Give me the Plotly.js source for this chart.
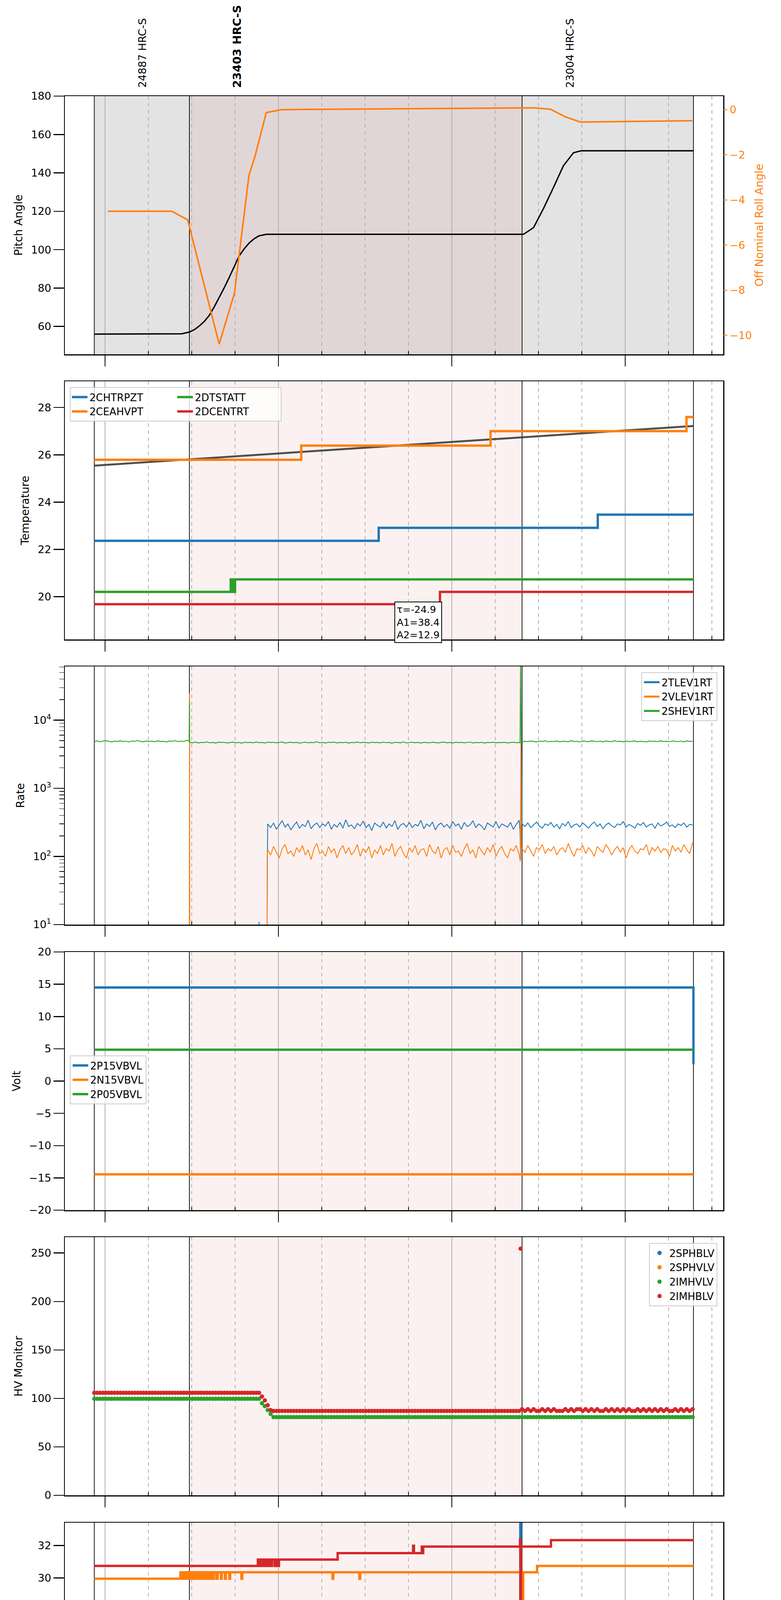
<!DOCTYPE html>
<html>
<head>
<meta charset="utf-8">
<script src="https://cdn.plot.ly/plotly-3.0.1.min.js"></script>
<style>
  html, body { margin: 0; padding: 0; background: #fff; }
  #chart { width: 2000px; height: 5400px; }
</style>
</head>
<body>
<div id="chart"></div>
<script>
// HRC status plot for 2020-12-12 (DOY 347). All times are minutes after 18:00.

// observations
const OBS_IDS = ['24887 HRC-S', '23403 HRC-S', '23004 HRC-S'];
const OBS_CURRENT = 1;
const OBS_START = [-3.7, 29.2, 144.3];
const OBS_END = 203.6;

// x ticks
const HOUR_TICKS = [0, 60, 120, 180];
const HOUR_LABELS = ['18h', '19h', '20h', '21h'];
const QUARTER_TICKS = [15, 30, 45, 75, 90, 105, 135, 150, 165, 195, 210];

// panel 1: pitch and off nominal roll
const PITCH_T = [-3.7, 26.6, 29.2, 30.9, 32.6, 34.4, 36.1, 37.8, 39.5, 41.3, 43.0, 44.7, 46.4, 48.2, 49.9, 51.6, 53.3, 55.9, 144.8, 148.3, 151.7, 155.2, 158.6, 162.1, 164.7, 203.6];
const PITCH_V = [56.0, 56.2, 57.1, 58.3, 60.2, 62.7, 65.8, 70.2, 75.1, 80.3, 85.6, 91.2, 96.7, 100.5, 103.5, 105.7, 107.2, 108.0, 108.0, 111.5, 121.4, 132.5, 143.7, 150.5, 151.5, 151.5];
const ROLL_T = [1.0, 23.1, 28.6, 39.5, 44.8, 49.8, 51.9, 55.8, 61.0, 148.1, 154.1, 159.3, 164.5, 203.2];
const ROLL_V = [-4.5, -4.5, -4.88, -10.39, -8.13, -2.92, -2.07, -0.13, 0.0, 0.08, 0.02, -0.32, -0.55, -0.49];

// panel 2: temperature (change points)
const TREND_T = [-3.7, 203.6];
const TREND_V = [25.54, 27.22];
const CHTRPZT_T = [-3.7, 94.7, 170.5, 203.6];
const CHTRPZT_V = [22.36, 22.91, 23.47, 23.47];
const CEAHVPT_T = [-3.7, 67.9, 133.4, 201.2, 203.6];
const CEAHVPT_V = [25.79, 26.39, 27.0, 27.6, 27.6];
const DTSTATT_T = [-3.7, 43.5, 43.8, 44.1, 44.6, 45.0, 203.6];
const DTSTATT_V = [20.2, 20.73, 20.2, 20.73, 20.2, 20.73, 20.73];
const DCENTRT_T = [-3.7, 115.9, 203.6];
const DCENTRT_V = [19.68, 20.2, 20.2];
const FIT_TEXT = ['τ=-24.9', 'A1=38.4', 'A2=12.9'];
const FIT_T = 108.4;
const FIT_Y = 19.79;

// panel 3: rates, one-minute samples plus short events
const RATE_TICKS = [10, 100, 1000, 10000];
const RATE_TICK_TEXT = ['10<sup>1</sup>', '10<sup>2</sup>', '10<sup>3</sup>', '10<sup>4</sup>'];
const SHEV_A = [4850,4960,4820,4900,5010,4880,4790,4930,4870,4990,
  4840,4920,4780,4950,4890,5020,4860,4800,4940,4870,
  4910,4830,4980,4850,4900,4770,4950,4880,5000,4840,
  4920,4860,5050];
const SHEV_B = [4700,4650,4760,4620,4720,4680,4790,4640,4710,4600,
  4750,4690,4730,4620,4680,4770,4650,4710,4590,4740,
  4680,4720,4640,4800,4660,4700,4610,4750,4690,4730,
  4650,4710,4780,4620,4690,4740,4660,4720,4600,4700,
  4760,4640,4710,4680,4820,4650,4700,4610,4730,4690,
  4750,4630,4710,4670,4740,4600,4700,4660,4780,4640,
  4720,4690,4610,4750,4680,4710,4630,4760,4670,4700,
  4590,4730,4680,4650,4790,4620,4700,4740,4660,4710,
  4600,4720,4680,4640,4750,4690,4630,4710,4770,4650,
  4700,4610,4740,4680,4720,4640,4690,4760,4620,4700,
  4660,4730,4600,4710,4680,4750,4640,4700,4670,4720,
  4630,4690,4740,4660,4710];
const SHEV_C = [4780,4900,4830,4950,4870,4790,4920,4860,4980,4810,
  4890,4840,4960,4800,4910,4870,4830,4990,4850,4900,
  4780,4940,4860,4820,4970,4880,4840,4910,4800,4950,
  4870,4830,4990,4860,4900,4790,4930,4850,4880,4960,
  4820,4900,4850,4780,4940,4870,4910,4830,4980,4860,
  4890,4810,4950,4870,4840,4920,4800,4960,4880,4900];
const SHEV_EV_T = [29.1, 29.2, 29.25, 143.6, 143.8, 144.0];
const SHEV_EV_V = [4900, 18700, 4800, 4650, 90000, 4800];

const TLEV_B = [300,265,310,250,290,335,270,300,245,285,
  320,260,295,275,340,255,290,310,265,300,
  280,325,250,295,270,315,260,345,275,290,
  255,305,280,330,265,295,240,310,285,270,
  320,260,300,275,335,250,290,305,270,315,
  265,295,280,340,255,300,275,320,245,290,
  310,270,295,260,325,280,300,250,315,275,
  290,335,265,300,280,245,310,290,270,325,
  260,300,285,270,315,250,295,340];
const TLEV_C = [300,275,310,265,290,320,280,260,300,285,
  315,270,295,255,305,280,325,265,290,300,
  270,310,285,260,295,320,275,300,255,290,
  310,280,265,300,290,325,270,295,280,260,
  305,285,315,270,290,300,260,310,280,295,
  320,275,290,265,300,285,310,270,295,290];
const TLEV_EV_T = [53.2, 53.3, 53.4, 56.0, 56.15, 143.6, 143.8, 144.05];
const TLEV_EV_V = [1, 11, 1, 1, 85, 240, 90, 4800];

const VLEV_B = [125,105,140,115,95,130,150,110,120,100,
  135,115,145,105,125,90,130,155,110,120,
  100,140,115,130,95,125,145,110,135,105,
  120,150,100,130,115,140,95,125,110,145,
  105,130,120,155,100,125,140,110,95,135,
  115,145,105,125,130,100,150,120,110,140,
  95,125,135,105,145,115,120,100,130,155,
  110,125,95,140,120,105,135,115,150,100,
  125,140,110,95,130,120,145,105];
const VLEV_C = [130,115,145,120,100,135,125,150,110,130,
  120,140,105,125,135,115,155,120,100,130,
  125,145,110,135,120,100,140,125,115,150,
  130,105,125,140,115,135,95,125,145,120,
  110,130,125,150,105,135,120,140,115,130,
  125,100,145,120,135,115,150,125,110,160];
const VLEV_EV_T = [29.15, 29.25, 29.35, 56.0, 56.1, 56.2, 143.7, 143.9, 144.1];
const VLEV_EV_V = [1, 24700, 1, 1, 48, 110, 85, 4700, 130];

// panel 4: volt
const P15_T = [-3.7, 203.5, 203.6];
const P15_V = [14.5, 14.5, 2.6];
const N15_T = [-3.7, 203.6];
const N15_V = [-14.45, -14.45];
const P05_T = [-3.7, 203.6];
const P05_V = [4.85, 4.85];

// panel 5: HV monitor, one-minute samples as [value, count] runs
const HV_T0 = -3.7;
const HV_DT = 1;
const IMHVLV_RUNS = [[99.6, 58], [95, 1], [92, 1], [88, 1], [84, 1], [80.7, 146]];
const IMHBLV_RUNS = [[105.8, 58], [102, 1], [98, 1], [93, 1], [88, 1], [87.1, 86]];
const IMHBLV_TAIL = [88.9,87.1,88.9,87.1,88.9,87.1,87.1,88.9,87.1,88.9,
  87.1,88.9,87.1,87.1,87.1,88.9,87.1,88.9,87.1,88.9,
  88.9,87.1,88.9,87.1,88.9,87.1,88.9,87.1,87.1,88.9,
  87.1,88.9,87.1,88.9,87.1,88.9,87.1,88.9,87.1,87.1,
  88.9,87.1,88.9,87.1,88.9,87.1,88.9,87.1,88.9,87.1,
  88.9,87.1,87.1,88.9,87.1,88.9,87.1,88.9,87.1,88.9];
const IMHBLV_EV_T = [143.8];
const IMHBLV_EV_V = [254.5];
// no valid samples for these two in the window
const SPHBLV_V = [null];
const SPHVLV_V = [null];

// panel 6: detector temp (change points)
const SPINATM_T = [-3.7, 76.5, 77.2, 77.9, 78.6, 79.3, 143.7, 143.9, 144.1, 203.6];
const SPINATM_V = [18.94, 19.61, 18.94, 19.61, 18.94, 19.61, 40, 10, 19.61, 19.61];
const SPHVATM_T = [-3.7, 26.1, 26.6, 27.1, 27.8, 28.5, 29.0, 29.6, 30.4, 31.0, 31.5, 32.2, 33.0, 33.6, 34.1, 34.9, 35.5, 36.3, 37.0, 37.6, 38.5, 39.0, 40.1, 40.4, 41.5, 41.8, 43.0, 43.3, 47.2, 47.5, 78.7, 79.0, 88.0, 88.3, 144.5, 144.7, 149.5, 203.6];
const SPHVATM_V = [29.95,
  30.35,29.95,30.35,29.95,30.35,29.95,30.35,29.95,30.35,29.95,
  30.35,29.95,30.35,29.95,30.35,29.95,30.35,29.95,30.35,29.95,
  30.35,29.95,30.35,29.95,30.35,29.95,30.35,29.95,30.35,29.95,
  30.35,29.95,30.35, 10, 30.35, 30.74, 30.74];
const IMINATM_T = [-3.7, 110.6, 111.2, 111.8, 112.6, 113.3, 114.0, 114.6, 115.1, 115.4, 144.55, 144.75, 203.6];
const IMINATM_V = [20.29, 20.99, 20.29, 20.99, 20.29, 20.99, 20.29, 20.99, 20.29, 20.99, 10, 20.99, 20.99];
const IMHVATM_T = [-3.7, 52.9, 53.4, 54.0, 54.5, 55.3, 55.8, 56.6, 57.4, 57.8, 58.7, 59.1, 59.9, 60.2, 80.5, 106.6, 106.9, 109.6, 109.9, 110.1, 143.6, 143.75, 143.95, 154.3, 203.6];
const IMHVATM_V = [30.74, 31.13, 30.74, 31.13, 30.74, 31.13, 30.74, 31.13, 30.74, 31.13, 30.74, 31.13, 30.74, 31.13, 31.53, 31.99, 31.53, 31.93, 31.53, 31.93, 32.38, 10, 31.93, 32.33, 32.33];

// panel 7: FEA temp (change points)
const FHTRMZT_T = [-3.7, 50.7, 65.3, 65.8, 66.4, 67.0, 67.5, 68.2, 68.8, 69.5, 70.1, 70.8, 71.4, 72.0, 72.6, 73.4, 73.8, 74.2, 77.0, 77.4, 78.8, 79.1, 80.7, 81.0, 82.0, 82.4, 86.0, 86.5, 87.1, 87.6, 88.3, 88.7, 89.4, 89.9, 90.6, 91.1, 91.7, 92.4, 93.0, 93.5, 94.0, 94.6, 101.4, 101.7, 102.8, 103.1, 203.6];
const FHTRMZT_V = [22.9, 23.47,
  22.9, 23.47, 22.9, 23.47, 22.9, 23.47, 22.9, 23.47, 22.9, 23.47, 22.9, 23.47, 22.9, 23.47,
  22.9, 23.47, 22.9, 23.47, 22.9, 23.47, 22.9, 23.47, 22.9, 23.47, 22.9, 23.47, 22.9, 23.47,
  22.9, 23.47, 22.9, 23.47, 22.9, 23.47, 22.9, 23.47, 22.9, 23.47, 22.9, 23.47, 22.9, 23.47,
  23.47];
const FRADPYT_T = [-3.7, 37.4, 63.1, 166.2, 196.0, 203.6];
const FRADPYT_V = [18.15, 18.64, 18.15, 18.64, 19.16, 19.16];
const FEPRATM_T = [-3.7, 143.7, 143.8, 199.4, 199.9, 200.5, 201.0, 201.6, 202.2, 202.8, 203.6];
const FEPRATM_V = [24.62, 23.0, 24.62, 25.44, 24.62, 25.44, 24.62, 25.44, 24.62, 25.44, 25.44];
const FE00ATM_T = [-3.7, 9.8, 64.5, 64.8, 65.3, 65.7, 67.0, 67.3, 67.5, 67.8, 91.5, 91.8, 101.5, 101.8, 109.2, 109.6, 112.2, 112.5, 114.8, 115.1, 126.9, 127.2, 137.4, 137.7, 143.8, 143.95, 144.1, 170.4, 170.8, 186.0, 186.4, 191.5, 191.9, 198.9, 199.5, 200.3, 201.1, 201.7, 202.4, 203.0, 203.6];
const FE00ATM_V = [22.66, 22.98, 22.65, 22.98, 24.31, 22.98, 23.96, 22.98, 22.65, 22.98, 23.32, 22.98, 23.32, 22.98, 22.30, 22.98, 23.65, 22.98, 22.65, 22.98, 22.65, 22.98, 22.65, 22.98, 27, 15, 22.98, 23.32, 22.98, 24.31, 22.98, 23.65, 22.98, 23.32, 22.98, 23.32, 22.98, 23.32, 22.98, 23.32, 23.32];

// ---------------------------------------------------------------------------

const BLUE = '#1f77b4', ORANGE = '#ff7f0e', GREEN = '#2ca02c', RED = '#d62728';
const FONT = 'DejaVu Sans, sans-serif';
const T_BASE = Date.UTC(2020, 11, 12, 18, 0, 0);

const tm = m => new Date(T_BASE + Math.round(m * 60000)).toISOString().slice(0, 23).replace('T', ' ');
const pairs = (t, v) => t.map((x, i) => [x, v[i]]);
const uniform = (t0, dt, vals) => vals.map((v, i) => [t0 + i * dt, v]);
const expandRuns = runs => [].concat(...runs.map(r => new Array(r[1]).fill(r[0])));
const merged = (...parts) => {
    const pts = [].concat(...parts).sort((a, b) => a[0] - b[0]);
    return { x: pts.map(p => tm(p[0])), y: pts.map(p => p[1]) };
};

// layout geometry (pixels)
const PANEL_TOP = [246, 976, 1706, 2437, 3167, 3898, 4629];
const PANEL_H = 661;
const M_L = 166, M_R = 148, M_T = 246, M_B = 110;
const PLOT_W = 2000 - M_L - M_R, PLOT_H = 5400 - M_T - M_B;
const PLOT_BOTTOM = 5400 - M_B;
const px = x => (x - M_L) / PLOT_W;
const py = y => (PLOT_BOTTOM - y) / PLOT_H;

const ax = (p, k) => k + (p ? p + 1 : '');

let data = [];

const stepLine = (p, t, v, name, color, width, legend) => ({
    x: t.map(tm), y: v, xaxis: ax(p, 'x'), yaxis: ax(p, 'y'), name: name,
    type: 'scatter', mode: 'lines', line: { color: color, width: width, shape: 'hv' },
    legend: legend, showlegend: !!legend
});

// panel 1
data.push({ x: PITCH_T.map(tm), y: PITCH_V, xaxis: 'x', yaxis: 'y', type: 'scatter', mode: 'lines',
    line: { color: '#000', width: 3.5 }, showlegend: false });
data.push({ x: ROLL_T.map(tm), y: ROLL_V, xaxis: 'x', yaxis: 'y8', type: 'scatter', mode: 'lines',
    line: { color: ORANGE, width: 4 }, showlegend: false });

// panel 2: two legend columns, one legend group per column
data.push({ x: TREND_T.map(tm), y: TREND_V, xaxis: 'x2', yaxis: 'y2', type: 'scatter', mode: 'lines',
    line: { color: 'rgba(60,60,60,0.9)', width: 5 }, showlegend: false });
data.push(Object.assign(stepLine(1, CHTRPZT_T, CHTRPZT_V, '2CHTRPZT', BLUE, 6, 'legend'), { legendgroup: 'col1' }));
data.push(Object.assign(stepLine(1, CEAHVPT_T, CEAHVPT_V, '2CEAHVPT', ORANGE, 6, 'legend'), { legendgroup: 'col1' }));
data.push(Object.assign(stepLine(1, DTSTATT_T, DTSTATT_V, '2DTSTATT', GREEN, 6, 'legend'), { legendgroup: 'col2' }));
data.push(Object.assign(stepLine(1, DCENTRT_T, DCENTRT_V, '2DCENTRT', RED, 6, 'legend'), { legendgroup: 'col2' }));

// panel 3
const rateSeries = [
    ['2TLEV1RT', BLUE, merged(pairs(TLEV_EV_T, TLEV_EV_V), uniform(56.3, 1, TLEV_B), uniform(144.3, 1, TLEV_C))],
    ['2VLEV1RT', ORANGE, merged(pairs(VLEV_EV_T, VLEV_EV_V), uniform(56.3, 1, VLEV_B), uniform(144.3, 1, VLEV_C))],
    ['2SHEV1RT', GREEN, merged(uniform(-3.7, 1, SHEV_A), uniform(29.3, 1, SHEV_B), uniform(144.3, 1, SHEV_C), pairs(SHEV_EV_T, SHEV_EV_V))]
];
rateSeries.forEach(s => {
    data.push({ x: s[2].x, y: s[2].y, xaxis: 'x3', yaxis: 'y3', type: 'scatter', mode: 'lines',
        line: { color: s[1], width: 2.2 }, showlegend: false, name: s[0] });
});
// thicker handles for the legend only
rateSeries.forEach(s => {
    data.push({ x: [tm(0)], y: [null], xaxis: 'x3', yaxis: 'y3', type: 'scatter', mode: 'lines',
        line: { color: s[1], width: 5 }, name: s[0], legend: 'legend3' });
});

// panel 4
data.push(stepLine(3, P15_T, P15_V, '2P15VBVL', BLUE, 6, 'legend4'));
data.push(stepLine(3, N15_T, N15_V, '2N15VBVL', ORANGE, 6, 'legend4'));
data.push(stepLine(3, P05_T, P05_V, '2P05VBVL', GREEN, 6, 'legend4'));

// panel 5
const hvDots = (name, color, pts) => ({ x: pts.x, y: pts.y, xaxis: 'x5', yaxis: 'y5', type: 'scatter',
    mode: 'markers', marker: { color: color, size: 11 }, name: name, legend: 'legend5' });
data.push(hvDots('2SPHBLV', BLUE, merged(uniform(HV_T0, HV_DT, SPHBLV_V))));
data.push(hvDots('2SPHVLV', ORANGE, merged(uniform(HV_T0, HV_DT, SPHVLV_V))));
data.push(hvDots('2IMHVLV', GREEN, merged(uniform(HV_T0, HV_DT, expandRuns(IMHVLV_RUNS)))));
data.push(hvDots('2IMHBLV', RED, merged(uniform(HV_T0, HV_DT, expandRuns(IMHBLV_RUNS).concat(IMHBLV_TAIL)),
    pairs(IMHBLV_EV_T, IMHBLV_EV_V))));

// panel 6
data.push(stepLine(5, SPINATM_T, SPINATM_V, '2SPINATM', BLUE, 6, 'legend6'));
data.push(stepLine(5, SPHVATM_T, SPHVATM_V, '2SPHVATM', ORANGE, 6, 'legend6'));
data.push(stepLine(5, IMINATM_T, IMINATM_V, '2IMINATM', GREEN, 6, 'legend6'));
data.push(stepLine(5, IMHVATM_T, IMHVATM_V, '2IMHVATM', RED, 6, 'legend6'));

// panel 7
data.push(stepLine(6, FHTRMZT_T, FHTRMZT_V, '2FHTRMZT', BLUE, 6, 'legend7'));
data.push(stepLine(6, FRADPYT_T, FRADPYT_V, '2FRADPYT', ORANGE, 6, 'legend7'));
data.push(stepLine(6, FEPRATM_T, FEPRATM_V, '2FEPRATM', GREEN, 6, 'legend7'));
data.push(stepLine(6, FE00ATM_T, FE00ATM_V, '2FE00ATM', RED, 6, 'legend7'));

// ---------------------------------------------------------------------------

const layout = {
    width: 2000, height: 5400,
    margin: { l: M_L, r: M_R, t: M_T, b: M_B },
    paper_bgcolor: '#fff', plot_bgcolor: '#fff',
    font: { family: FONT, size: 27, color: '#000' },
    showlegend: true,
    shapes: [], annotations: []
};

const Y_TITLES = ['Pitch Angle', 'Temperature', 'Rate', 'Volt', 'HV Monitor', 'Detector Temp', 'FEA Temp'];
const Y_RANGES = [[45.5, 180], [18.19, 29.11], [1, 4.788], [-20, 20], [0, 266.4], [17.47, 33.41], [16.65, 26.12]];
const Y_DTICK = [20, 2, 1, 5, 50, 2, 2];

for (let p = 0; p < 7; p++) {
    const top = PANEL_TOP[p];
    layout[ax(p, 'xaxis')] = {
        type: 'date', anchor: ax(p, 'y'), domain: [0, 1],
        range: [tm(-13.9), tm(213.9)],
        tickmode: 'array', tickvals: HOUR_TICKS.map(tm), ticktext: HOUR_LABELS,
        ticks: 'outside', ticklen: 28, tickwidth: 2.5, tickcolor: '#000',
        showgrid: true, gridcolor: '#b0b0b0', gridwidth: 1.5,
        minor: { tickmode: 'array', tickvals: QUARTER_TICKS.map(tm), ticks: 'inside', ticklen: 8,
            tickwidth: 1.5, tickcolor: '#000', showgrid: true, gridcolor: '#b0b0b0', gridwidth: 1.5, griddash: 'dash' },
        showline: true, mirror: true, linecolor: '#000', linewidth: 2.5,
        zeroline: false, showticklabels: p === 6, tickfont: { size: 27 }
    };
    layout[ax(p, 'yaxis')] = {
        anchor: ax(p, 'x'), domain: [py(top + PANEL_H), py(top)],
        range: Y_RANGES[p], dtick: Y_DTICK[p], tick0: 0,
        ticks: 'outside', ticklen: 27, tickwidth: 2.5, tickcolor: '#000',
        showline: true, mirror: true, linecolor: '#000', linewidth: 2.5,
        showgrid: false, zeroline: false, tickfont: { size: 27 },
        title: { text: Y_TITLES[p], font: { size: 28 }, standoff: 14 }
    };

    const xr = ax(p, 'x'), yr = ax(p, 'y') + ' domain';
    if (p === 0) {
        layout.shapes.push({ type: 'rect', layer: 'below', xref: xr, yref: yr, x0: tm(OBS_START[0]), x1: tm(OBS_END),
            y0: 0, y1: 1, fillcolor: 'rgba(128,128,128,0.22)', line: { width: 0 } });
    }
    layout.shapes.push({ type: 'rect', layer: 'below', xref: xr, yref: yr,
        x0: tm(OBS_START[OBS_CURRENT]), x1: tm(OBS_START[OBS_CURRENT + 1]),
        y0: 0, y1: 1, fillcolor: 'rgba(214,39,40,0.065)', line: { width: 0 } });
    OBS_START.concat([OBS_END]).forEach(t => {
        layout.shapes.push({ type: 'line', layer: 'below', xref: xr, yref: yr, x0: tm(t), x1: tm(t),
            y0: 0, y1: 1, line: { color: '#000', width: 1.8 } });
    });
}

layout.yaxis3.type = 'log';
layout.yaxis3.tickmode = 'array';
layout.yaxis3.tickvals = RATE_TICKS;
layout.yaxis3.ticktext = RATE_TICK_TEXT;
layout.yaxis3.minor = { ticks: 'outside', ticklen: 12, tickwidth: 1.5, tickcolor: '#000', dtick: 'D1', showgrid: false };

layout.yaxis8 = {
    overlaying: 'y', side: 'right', anchor: 'x',
    range: [-10.84, 0.60], dtick: 2, tick0: 0,
    ticks: 'outside', ticklen: 10, tickwidth: 2, tickcolor: ORANGE,
    tickfont: { size: 27, color: ORANGE },
    showgrid: false, zeroline: false, showline: false,
    title: { text: 'Off Nominal Roll Angle', font: { size: 28, color: ORANGE }, standoff: 10 }
};

layout.xaxis7.title = { text: '2020-12-12 (347)', font: { size: 29 }, standoff: 12 };

// observation labels above the first panel
OBS_IDS.forEach((id, i) => {
    const cur = i === OBS_CURRENT;
    layout.annotations.push({
        text: cur ? '<b>' + id + '</b>' : id, xref: 'x', yref: 'paper',
        x: tm(OBS_START[i] + 16.5), y: 1, xanchor: 'center', yanchor: 'bottom', yshift: 19,
        textangle: -90, showarrow: false, font: { size: cur ? 29 : 27 }
    });
});

// quarter-hour labels under the bottom panel
QUARTER_TICKS.forEach(m => {
    layout.annotations.push({
        text: String(m % 60), xref: 'x7', yref: 'paper', x: tm(m), y: 0,
        xanchor: 'center', yanchor: 'top', yshift: -8, showarrow: false, font: { size: 18 }
    });
});

// fit result box in the temperature panel
layout.annotations.push({
    text: FIT_TEXT.join('<br>'), xref: 'x2', yref: 'y2', x: tm(FIT_T), y: FIT_Y,
    xanchor: 'center', yanchor: 'top', align: 'left', showarrow: false,
    bgcolor: '#fff', bordercolor: '#000', borderwidth: 2, borderpad: 4, font: { size: 25 }
});

// legends
const legendBase = { font: { size: 26 }, bgcolor: 'rgba(255,255,255,0.8)', bordercolor: '#cccccc',
    borderwidth: 2, yanchor: 'top', tracegroupgap: 0, itemwidth: 40 };
layout.legend = Object.assign({}, legendBase, { x: px(179), y: py(991), xanchor: 'left',
    orientation: 'h', traceorder: 'grouped', tracegroupgap: 10, entrywidth: 215 });
layout.legend3 = Object.assign({}, legendBase, { x: px(1837), y: py(1721), xanchor: 'right' });
layout.legend4 = Object.assign({}, legendBase, { x: px(179), y: py(2702), xanchor: 'left' });
layout.legend5 = Object.assign({}, legendBase, { x: px(1837), y: py(3182), xanchor: 'right' });
layout.legend6 = Object.assign({}, legendBase, { x: px(1837), y: py(4142), xanchor: 'right' });
layout.legend7 = Object.assign({}, legendBase, { x: px(1837), y: py(4872), xanchor: 'right' });

Plotly.newPlot('chart', data, layout, { displayModeBar: false, staticPlot: true });
</script>
</body>
</html>
